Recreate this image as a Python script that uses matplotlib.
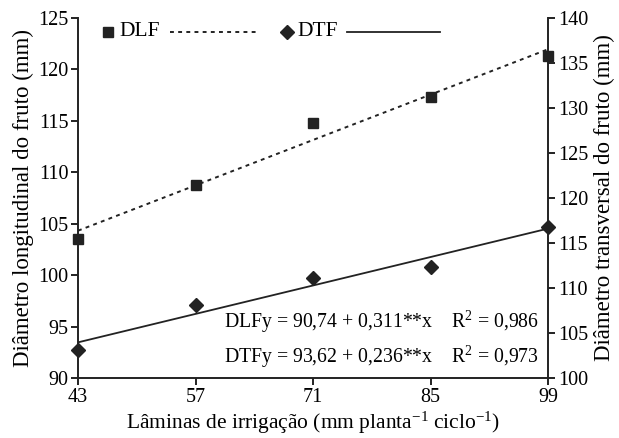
import numpy as np
import matplotlib
matplotlib.use("Agg")
import matplotlib.pyplot as plt

plt.rcParams["font.family"] = "Liberation Serif"
plt.rcParams["mathtext.fontset"] = "custom"
plt.rcParams["mathtext.rm"] = "Liberation Serif"
plt.rcParams["mathtext.default"] = "regular"

laminas = [43, 57, 71, 85, 99]
dlf = [103.5, 108.8, 114.8, 117.3, 121.3]
dtf = [103.1, 108.1, 111.1, 112.3, 116.8]
eq_dlf = "DLFy = 90,74 + 0,311**x    R$^{2}$ = 0,986"
eq_dtf = "DTFy = 93,62 + 0,236**x    R$^{2}$ = 0,973"

col = "#222222"
x = np.array(laminas)

fig = plt.figure(figsize=(6.19, 4.38), dpi=100)
ax = fig.add_axes([78 / 619, 60 / 438, 470 / 619, 360 / 438])
ax2 = ax.twinx()

# DLF on the left axis, trend line from a linear fit
ax.plot(laminas, dlf, "s", color=col, markersize=6.5, clip_on=False, zorder=5)
c1 = np.polyfit(x, dlf, 1)
ax.plot(x, np.polyval(c1, x), color=col, lw=1.4, linestyle=(0, (2, 2.2)))

# DTF on the right axis
ax2.plot(laminas, dtf, "D", color=col, markersize=7, clip_on=False, zorder=5)
c2 = np.polyfit(x, dtf, 1)
ax2.plot(x, np.polyval(c2, x), color=col, lw=1.3)

ax.set_xlim(43, 99)
ax.set_ylim(90, 125)
ax2.set_ylim(100, 140)
ax.set_xticks(laminas)
ax.set_yticks(range(90, 126, 5))
ax2.set_yticks(range(100, 141, 5))

for a in (ax, ax2):
    a.spines["top"].set_visible(False)
    for s in a.spines.values():
        s.set_linewidth(1.4)
        s.set_color(col)
    a.tick_params(labelsize=14.5, width=1.4, length=5, color=col, pad=2)
ax.spines["right"].set_visible(False)
ax2.spines["left"].set_visible(False)
ax2.spines["bottom"].set_visible(False)

ax.set_xlabel("Lâminas de irrigação (mm planta$^{-1}$ ciclo$^{-1}$)", fontsize=15.5, labelpad=2)
ax.set_ylabel("Diâmetro longitudinal do fruto (mm)", fontsize=16.5, labelpad=3)
ax2.set_ylabel("Diâmetro transversal do fruto (mm)", fontsize=16.5, labelpad=4)

# equations
ax.text(0.98, 0.155, eq_dlf, transform=ax.transAxes, ha="right", va="center", fontsize=14.2)
ax.text(0.98, 0.058, eq_dtf, transform=ax.transAxes, ha="right", va="center", fontsize=14.2)

# legend drawn by hand: marker, label, line sample
ly = 0.962
ax.plot([0.064], [ly], "s", color=col, markersize=6.5, transform=ax.transAxes, clip_on=False)
ax.text(0.088, ly, "DLF", transform=ax.transAxes, ha="left", va="center", fontsize=15.5)
ax.plot([0.196, 0.383], [ly, ly], color=col, lw=1.4, linestyle=(0, (2, 2.2)),
        transform=ax.transAxes, clip_on=False)
ax.plot([0.445], [ly], "D", color=col, markersize=7, transform=ax.transAxes, clip_on=False)
ax.text(0.466, ly, "DTF", transform=ax.transAxes, ha="left", va="center", fontsize=15.5)
ax.plot([0.572, 0.770], [ly, ly], color=col, lw=1.3, transform=ax.transAxes, clip_on=False)

fig.savefig("out.png", dpi=100)
